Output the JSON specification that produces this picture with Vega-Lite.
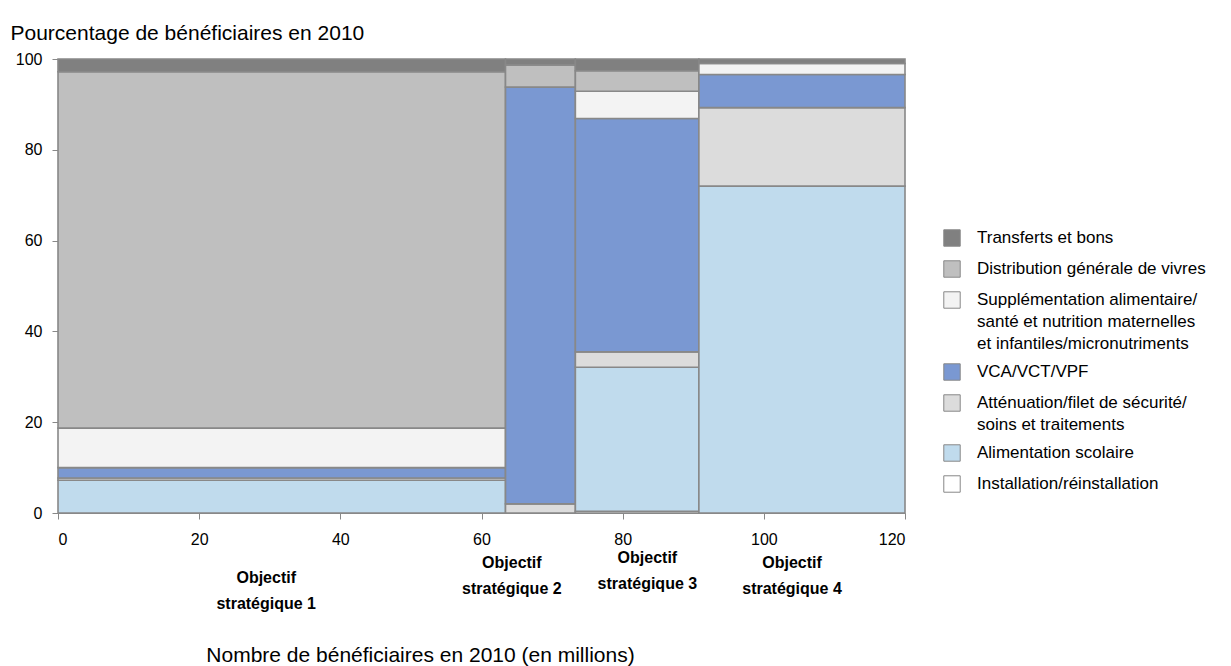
{
  "$schema": "https://vega.github.io/schema/vega-lite/v6.json",
  "autosize": "none",
  "width": 847,
  "height": 454,
  "padding": {"left": 58, "top": 59, "right": 326, "bottom": 153},
  "background": "white",
  "config": {
    "font": "Liberation Sans",
    "view": {"stroke": null},
    "axis": {"grid": false, "domainColor": "#888888", "tickColor": "#888888", "labelFont": "Liberation Sans", "labelFontSize": 16, "labelColor": "#000000", "titleFont": "Liberation Sans", "titleFontWeight": "normal", "titleFontSize": 21, "titleColor": "#000000"}
  },
  "datasets": {
    "segments": [
      {"objectif": "OS1", "debut": 0, "fin": 63.4, "categorie": "Installation/réinstallation", "ordre": 1, "pct": 0},
      {"objectif": "OS1", "debut": 0, "fin": 63.4, "categorie": "Alimentation scolaire", "ordre": 2, "pct": 7.2},
      {"objectif": "OS1", "debut": 0, "fin": 63.4, "categorie": "Atténuation/filet de sécurité/ soins et traitements", "ordre": 3, "pct": 0.5},
      {"objectif": "OS1", "debut": 0, "fin": 63.4, "categorie": "VCA/VCT/VPF", "ordre": 4, "pct": 2.3},
      {"objectif": "OS1", "debut": 0, "fin": 63.4, "categorie": "Supplémentation alimentaire/ santé et nutrition maternelles et infantiles/micronutriments", "ordre": 5, "pct": 8.7},
      {"objectif": "OS1", "debut": 0, "fin": 63.4, "categorie": "Distribution générale de vivres", "ordre": 6, "pct": 78.5},
      {"objectif": "OS1", "debut": 0, "fin": 63.4, "categorie": "Transferts et bons", "ordre": 7, "pct": 2.8},
      {"objectif": "OS2", "debut": 63.4, "fin": 73.3, "categorie": "Atténuation/filet de sécurité/ soins et traitements", "ordre": 3, "pct": 2.0},
      {"objectif": "OS2", "debut": 63.4, "fin": 73.3, "categorie": "VCA/VCT/VPF", "ordre": 4, "pct": 91.8},
      {"objectif": "OS2", "debut": 63.4, "fin": 73.3, "categorie": "Distribution générale de vivres", "ordre": 6, "pct": 4.9},
      {"objectif": "OS2", "debut": 63.4, "fin": 73.3, "categorie": "Transferts et bons", "ordre": 7, "pct": 1.3},
      {"objectif": "OS3", "debut": 73.3, "fin": 90.8, "categorie": "Installation/réinstallation", "ordre": 1, "pct": 0.4},
      {"objectif": "OS3", "debut": 73.3, "fin": 90.8, "categorie": "Alimentation scolaire", "ordre": 2, "pct": 31.7},
      {"objectif": "OS3", "debut": 73.3, "fin": 90.8, "categorie": "Atténuation/filet de sécurité/ soins et traitements", "ordre": 3, "pct": 3.4},
      {"objectif": "OS3", "debut": 73.3, "fin": 90.8, "categorie": "VCA/VCT/VPF", "ordre": 4, "pct": 51.4},
      {"objectif": "OS3", "debut": 73.3, "fin": 90.8, "categorie": "Supplémentation alimentaire/ santé et nutrition maternelles et infantiles/micronutriments", "ordre": 5, "pct": 6.0},
      {"objectif": "OS3", "debut": 73.3, "fin": 90.8, "categorie": "Distribution générale de vivres", "ordre": 6, "pct": 4.5},
      {"objectif": "OS3", "debut": 73.3, "fin": 90.8, "categorie": "Transferts et bons", "ordre": 7, "pct": 2.6},
      {"objectif": "OS4", "debut": 90.8, "fin": 120, "categorie": "Alimentation scolaire", "ordre": 2, "pct": 72.0},
      {"objectif": "OS4", "debut": 90.8, "fin": 120, "categorie": "Atténuation/filet de sécurité/ soins et traitements", "ordre": 3, "pct": 17.3},
      {"objectif": "OS4", "debut": 90.8, "fin": 120, "categorie": "VCA/VCT/VPF", "ordre": 4, "pct": 7.3},
      {"objectif": "OS4", "debut": 90.8, "fin": 120, "categorie": "Supplémentation alimentaire/ santé et nutrition maternelles et infantiles/micronutriments", "ordre": 5, "pct": 2.4},
      {"objectif": "OS4", "debut": 90.8, "fin": 120, "categorie": "Transferts et bons", "ordre": 7, "pct": 1.0}
    ],
    "etiquettes": [
      {"texte": ["Objectif", "stratégique  1"], "x": 29.5, "y": -14.3},
      {"texte": ["Objectif", "stratégique  2"], "x": 64.3, "y": -11.0},
      {"texte": ["Objectif", "stratégique 3"], "x": 83.5, "y": -10.0},
      {"texte": ["Objectif", "stratégique  4"], "x": 104.0, "y": -11.0}
    ]
  },
  "layer": [
    {
      "data": {"name": "segments"},
      "transform": [
        {"filter": "datum.pct > 0"},
        {"stack": "pct", "groupby": ["objectif"], "sort": [{"field": "ordre", "order": "ascending"}], "as": ["y0", "y1"]}
      ],
      "mark": {"type": "rect", "stroke": "#888888", "strokeWidth": 1.6},
      "encoding": {
        "x": {"field": "debut", "type": "quantitative", "scale": {"domain": [0, 120], "nice": false, "zero": true},
          "axis": {"values": [0, 20, 40, 60, 80, 100, 120], "tickSize": 6, "labelPadding": 12, "domain": true,
            "title": "Nombre de bénéficiaires en 2010 (en millions)", "titleX": 362, "titleY": 142, "titleAnchor": "middle", "titleAlign": "center", "titleBaseline": "middle"}},
        "x2": {"field": "fin"},
        "y": {"field": "y0", "type": "quantitative", "scale": {"domain": [0, 100], "nice": false},
          "axis": {"values": [0, 20, 40, 60, 80, 100], "tickSize": 6, "labelPadding": 10,
            "title": "Pourcentage de bénéficiaires en 2010", "titleAngle": 0, "titleX": -48, "titleY": -20, "titleAlign": "left", "titleAnchor": "start", "titleBaseline": "alphabetic"}},
        "y2": {"field": "y1"},
        "fill": {
          "field": "categorie", "type": "nominal",
          "scale": {
            "domain": ["Transferts et bons", "Distribution générale de vivres", "Supplémentation alimentaire/ santé et nutrition maternelles et infantiles/micronutriments", "VCA/VCT/VPF", "Atténuation/filet de sécurité/ soins et traitements", "Alimentation scolaire", "Installation/réinstallation"],
            "range": ["#808080", "#bfbfbf", "#f3f3f3", "#7a98d2", "#dcdcdc", "#c0dbed", "#ffffff"]
          },
          "legend": {
            "title": null, "orient": "none", "legendX": 885, "legendY": 170,
            "symbolType": "square", "symbolSize": 270, "symbolStrokeColor": "#888888", "symbolStrokeWidth": 1, "symbolOpacity": 1,
            "labelFont": "Liberation Sans", "labelFontSize": 17, "labelColor": "#000000", "labelLimit": 400, "labelOffset": 16, "rowPadding": 9,
            "labelExpr": "datum.label == 'Supplémentation alimentaire/ santé et nutrition maternelles et infantiles/micronutriments' ? ['Supplémentation alimentaire/', 'santé et nutrition maternelles', 'et infantiles/micronutriments'] : datum.label == 'Atténuation/filet de sécurité/ soins et traitements' ? ['Atténuation/filet de sécurité/', 'soins et traitements'] : datum.label",
            "encode": {"labels": {"update": {"lineHeight": {"value": 22}}}}
          }
        }
      }
    },
    {
      "data": {"name": "etiquettes"},
      "mark": {"type": "text", "font": "Liberation Sans", "fontSize": 16, "fontWeight": "bold", "align": "center", "baseline": "middle", "lineHeight": 26, "clip": false, "color": "#000000"},
      "encoding": {
        "x": {"field": "x", "type": "quantitative"},
        "y": {"field": "y", "type": "quantitative"},
        "text": {"field": "texte"}
      }
    }
  ]
}
